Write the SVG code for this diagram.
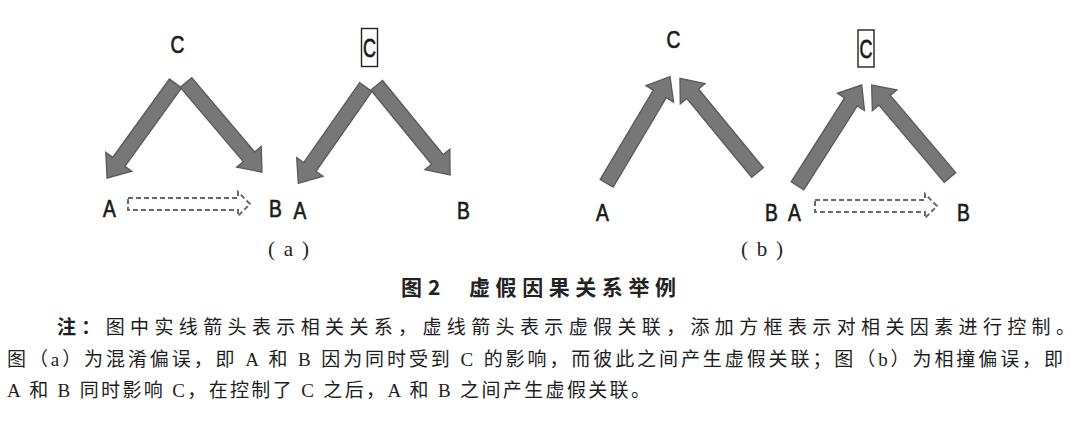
<svg xmlns="http://www.w3.org/2000/svg" width="1080" height="439" viewBox="0 0 1080 439">
<style>
.blk{fill:#777777;stroke:#5c5c5c;stroke-width:1.4;stroke-linejoin:miter}
.dash{fill:#ffffff;stroke:#6a6a6a;stroke-width:2;stroke-dasharray:5 3}
.lab{font-family:"Liberation Sans",sans-serif;font-size:24px;fill:#1a1a1a;stroke:#1a1a1a;stroke-width:0.7;text-anchor:middle}
.box{fill:none;stroke:#222;stroke-width:1.4}
.sub{font-family:"Liberation Serif",serif;font-size:21px;fill:#222}
.cap{font-family:"Noto Sans CJK SC",sans-serif;font-size:21px;font-weight:700;fill:#222}
.body{font-family:"Liberation Serif","Noto Sans CJK SC",serif;font-size:19px;fill:#1e1e1e}
</style>
<rect width="1080" height="439" fill="#ffffff"/>

<g id="connectors">
  <path class="blk" transform="translate(175.5,83.5) rotate(125.9)" d="M0,-7.5 L96.7,-7.5 L96.7,-16 L116.7,0 L96.7,16 L96.7,7.5 L0,7.5 Z"/>
  <path class="blk" transform="translate(186,82.5) rotate(49.7)" d="M0,-7.5 L97.4,-7.5 L97.4,-16 L117.4,0 L97.4,16 L97.4,7.5 L0,7.5 Z"/>
  <path class="dash" d="M128,198 L238,198 L238,192 L250,204 L238,216 L238,210 L128,210 Z"/>
  <path class="blk" transform="translate(365.8,87) rotate(125)" d="M0,-7.5 L97.6,-7.5 L97.6,-16 L117.6,0 L97.6,16 L97.6,7.5 L0,7.5 Z"/>
  <path class="blk" transform="translate(376.7,85.3) rotate(50.7)" d="M0,-7.5 L95.8,-7.5 L95.8,-16 L115.8,0 L95.8,16 L95.8,7.5 L0,7.5 Z"/>
  <path class="blk" transform="translate(606.7,183.3) rotate(-59.3)" d="M0,-7.5 L104,-7.5 L104,-16 L124,0 L104,16 L104,7.5 L0,7.5 Z"/>
  <path class="blk" transform="translate(757.5,172.5) rotate(-129.45)" d="M0,-7.5 L102,-7.5 L102,-16 L122,0 L102,16 L102,7.5 L0,7.5 Z"/>
  <path class="blk" transform="translate(797.5,185.8) rotate(-57.5)" d="M0,-7.5 L99.5,-7.5 L99.5,-16 L119.5,0 L99.5,16 L99.5,7.5 L0,7.5 Z"/>
  <path class="blk" transform="translate(950,177.5) rotate(-130.25)" d="M0,-7.5 L101.2,-7.5 L101.2,-16 L121.2,0 L101.2,16 L101.2,7.5 L0,7.5 Z"/>
  <path class="dash" d="M815,200 L925,200 L925,194 L937,206 L925,218 L925,212 L815,212 Z"/>
</g>

<g id="node-a1-C"><text class="lab" transform="translate(177.5,53) scale(0.8,1)">C</text></g>
<g id="node-a1-A"><text class="lab" transform="translate(109.5,217) scale(0.8,1)">A</text></g>
<g id="node-a1-B"><text class="lab" transform="translate(275.5,217) scale(0.8,1)">B</text></g>

<g id="node-a2-C"><rect class="box" x="361.5" y="28.5" width="16" height="38"/><text class="lab" transform="translate(369.5,57) scale(0.75,1.1)">C</text></g>
<g id="node-a2-A"><text class="lab" transform="translate(300,219) scale(0.8,1)">A</text></g>
<g id="node-a2-B"><text class="lab" transform="translate(463.5,219) scale(0.8,1)">B</text></g>

<g id="node-b1-C"><text class="lab" transform="translate(673.5,48) scale(0.8,1)">C</text></g>
<g id="node-b1-A"><text class="lab" transform="translate(602.5,221) scale(0.8,1)">A</text></g>
<g id="node-b1-B"><text class="lab" transform="translate(771.5,221) scale(0.8,1)">B</text></g>

<g id="node-b2-C"><rect class="box" x="858" y="30" width="16" height="37"/><text class="lab" transform="translate(866,58) scale(0.75,1.1)">C</text></g>
<g id="node-b2-A"><text class="lab" transform="translate(794.5,221) scale(0.8,1)">A</text></g>
<g id="node-b2-B"><text class="lab" transform="translate(963.5,221) scale(0.8,1)">B</text></g>

<text class="sub" x="268" y="256" textLength="41" lengthAdjust="spacing">( a )</text>
<text class="sub" x="741" y="256" textLength="42" lengthAdjust="spacing">( b )</text>

<text class="cap" x="401" y="295">图</text>
<text class="cap" x="428" y="295" font-family="Liberation Sans, sans-serif">2</text>
<text class="cap" x="469" y="295" textLength="207" lengthAdjust="spacing">虚假因果关系举例</text>

<text class="body" x="57" y="334" textLength="1018" lengthAdjust="spacing"><tspan font-weight="700">注：</tspan>图中实线箭头表示相关关系，虚线箭头表示虚假关联，添加方框表示对相关因素进行控制。</text>
<text class="body" x="7" y="366" textLength="1056" lengthAdjust="spacing">图（a）为混淆偏误，即 A 和 B 因为同时受到 C 的影响，而彼此之间产生虚假关联；图（b）为相撞偏误，即</text>
<text class="body" x="7" y="397" textLength="643" lengthAdjust="spacing">A 和 B 同时影响 C，在控制了 C 之后，A 和 B 之间产生虚假关联。</text>
</svg>
